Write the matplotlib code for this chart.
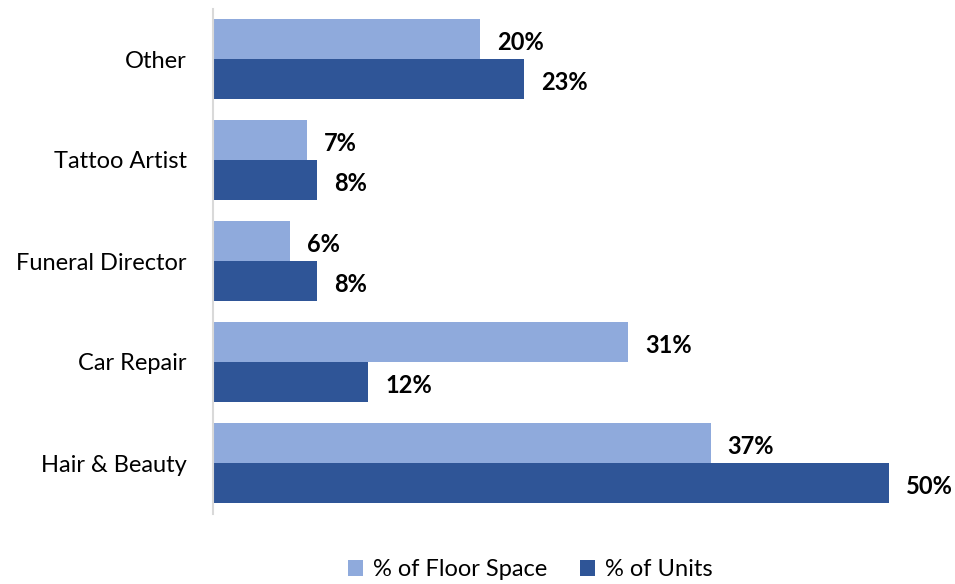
import matplotlib
matplotlib.use("Agg")
import matplotlib.pyplot as plt
import numpy as np

categories = ["Hair & Beauty", "Car Repair", "Funeral Director", "Tattoo Artist", "Other"]
floor_space = [36.8, 30.7, 5.7, 6.95, 19.75]
units = [50.0, 11.5, 7.7, 7.7, 23.0]
floor_labels = ["37%", "31%", "6%", "7%", "20%"]
unit_labels = ["50%", "12%", "8%", "8%", "23%"]

light = "#8FAADC"
dark = "#2F5597"

plt.rcParams["font.family"] = ["Lato", "DejaVu Sans"]

fig = plt.figure(figsize=(9.55, 5.84), dpi=100)
ax = fig.add_axes([213 / 955, 70.5 / 584, 676 / 955, 505 / 584])

y = np.arange(len(categories))
h = 0.396
ax.barh(y + h / 2, floor_space, height=h, color=light, label="% of Floor Space")
ax.barh(y - h / 2, units, height=h, color=dark, label="% of Units")

for i in range(len(categories)):
    ax.text(floor_space[i] + 1.25, y[i] + h / 2 - 0.03, floor_labels[i], va="center", ha="left",
            fontsize=17, fontweight="bold", clip_on=False)
    ax.text(units[i] + 1.25, y[i] - h / 2 - 0.03, unit_labels[i], va="center", ha="left",
            fontsize=17, fontweight="bold", clip_on=False)

ax.set_xlim(0, 50)
ax.set_ylim(-0.5, len(categories) - 0.5)
ax.set_yticks(y)
ax.set_yticklabels(categories, fontsize=17)
ax.tick_params(axis="y", length=0, pad=19)
ax.set_xticks([])
for s in ["top", "right", "bottom"]:
    ax.spines[s].set_visible(False)
ax.spines["left"].set_color("#D9D9D9")
ax.spines["left"].set_linewidth(1.5)

fig.legend(loc="center", bbox_to_anchor=(530 / 955, 14 / 584), ncol=2, frameon=False,
           fontsize=17, handlelength=0.65, handleheight=0.65, handletextpad=0.4,
           columnspacing=1.4, borderpad=0)

fig.savefig("out.png", dpi=100)
